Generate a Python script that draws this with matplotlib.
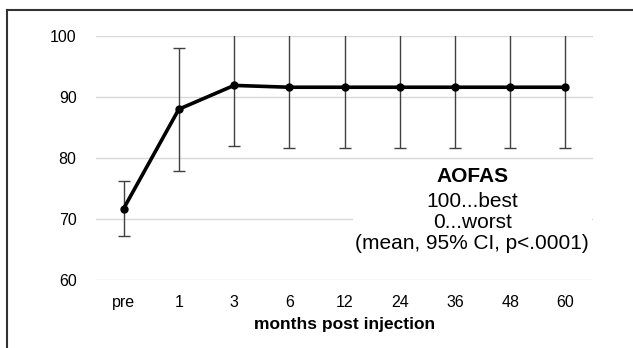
import matplotlib
matplotlib.use("Agg")
import matplotlib.pyplot as plt
from matplotlib.lines import Line2D

plt.rcParams['font.family'] = ['Liberation Sans', 'DejaVu Sans']

categories = ["pre", "1", "3", "6", "12", "24", "36", "48", "60"]
means = [71.7, 88.0, 91.9, 91.6, 91.6, 91.6, 91.6, 91.6, 91.6]
ci_lower = [67.2, 77.9, 81.9, 81.6, 81.6, 81.6, 81.6, 81.6, 81.6]
ci_upper = [76.2, 98.0, 101.9, 101.6, 101.6, 101.6, 101.6, 101.6, 101.6]
y_ticks = [60, 70, 80, 90, 100]

W, H = 633, 348
fig = plt.figure(figsize=(W / 100, H / 100), dpi=100)
ax = fig.add_axes([96 / W, 1 - 280 / H, (593 - 96) / W, (280 - 36) / H])

x = list(range(len(categories)))
yerr = [[m - l for m, l in zip(means, ci_lower)], [u - m for m, u in zip(means, ci_upper)]]
ax.errorbar(x, means, yerr=yerr, fmt='none', ecolor='#404040', elinewidth=1.0,
            capsize=4, capthick=1.0, zorder=2)
ax.plot(x, means, color='black', lw=2.6, marker='o', ms=5, zorder=3)

ax.set_xlim(-0.5, len(categories) - 0.5)
ax.set_ylim(60, 100)
ax.set_yticks(y_ticks)
ax.set_xticks(x)
ax.set_xticklabels(categories)
ax.tick_params(length=0, labelsize=11.5, colors='black', pad=11)
ax.tick_params(axis='y', pad=14)
ax.yaxis.grid(True, color='#d9d9d9', lw=1.0)
ax.set_axisbelow(True)
for s in ax.spines.values():
    s.set_visible(False)
ax.set_xlabel("months post injection", fontsize=12.5, fontweight='bold', labelpad=5)

ax.text(0.757, 0.426, "AOFAS", transform=ax.transAxes, ha='center', va='center',
        fontsize=15, fontweight='bold', zorder=5)
ax.text(0.757, 0.234, "100...best\n0...worst\n(mean, 95% CI, p<.0001)",
        transform=ax.transAxes, ha='center', va='center', fontsize=15,
        linespacing=1.13, zorder=5,
        bbox=dict(facecolor='white', edgecolor='none', pad=2))

# outer frame
fig.add_artist(Line2D([7 / W, 1], [1 - 10 / H, 1 - 10 / H], color='#333333', lw=1.5,
                      transform=fig.transFigure))
fig.add_artist(Line2D([7 / W, 7 / W], [0, 1 - 10 / H], color='#333333', lw=1.5,
                      transform=fig.transFigure))

fig.savefig("out.png", dpi=100)
